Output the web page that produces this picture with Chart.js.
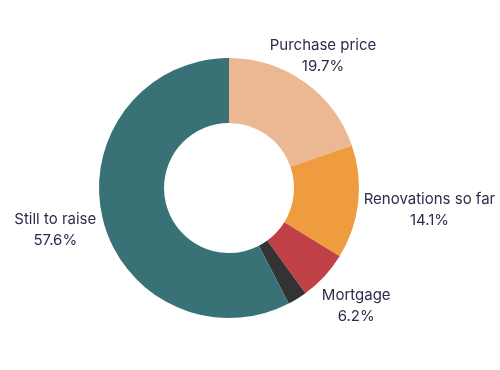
<!DOCTYPE html>
<html>
<head>
<meta charset="utf-8">
<script src="https://cdn.jsdelivr.net/npm/chart.js@4/dist/chart.umd.min.js"></script>
<style>
html,body{margin:0;padding:0;background:#fff;}
#wrap{position:relative;width:500px;height:370px;}
</style>
</head>
<body>
<div id="wrap"><canvas id="c"></canvas></div>
<script>
const categories = ["Purchase price", "Renovations so far", "Mortgage", "", "Still to raise"];
const shares = [19.7, 14.1, 6.2, 2.4, 57.6];
const sliceColors = ["#EBB893", "#EF9C41", "#BF4146", "#333333", "#387276"];

const labelPlugin = {
  id: 'outerLabels',
  afterDatasetsDraw(chart) {
    const ctx = chart.ctx;
    const meta = chart.getDatasetMeta(0);
    const data = chart.data.datasets[0].data;
    ctx.save();
    ctx.font = '15px Inter, "Noto Sans", sans-serif';
    ctx.fillStyle = '#2b2d4b';
    ctx.textAlign = 'center';
    ctx.textBaseline = 'middle';
    const lineH = 21;
    meta.data.forEach((arc, i) => {
      const name = chart.data.labels[i];
      if (!name) return;
      const p = arc.getProps(['x','y','startAngle','endAngle','outerRadius'], true);
      const mid = (p.startAngle + p.endAngle) / 2;
      const c = Math.cos(mid), s = Math.sin(mid);
      const lines = [name, data[i].toFixed(1) + '%'];
      const w = Math.max(...lines.map(l => ctx.measureText(l).width));
      const h = lineH * 2;
      const ext = Math.abs(c) * w / 2 + Math.abs(s) * h / 2;
      let d = p.outerRadius + 4 + ext;
      let cx = p.x + c * d, cy = p.y + s * d;
      const minTop = 35;
      if (cy - h / 2 < minTop && s < 0) {
        const back = (minTop - (cy - h / 2)) / Math.abs(s);
        d -= back;
        cx = p.x + c * d; cy = p.y + s * d;
      }
      ctx.fillText(lines[0], cx, cy - lineH / 2);
      ctx.fillText(lines[1], cx, cy + lineH / 2);
    });
    ctx.restore();
  }
};

new Chart(document.getElementById('c'), {
  type: 'doughnut',
  data: {
    labels: categories,
    datasets: [{
      data: shares,
      backgroundColor: sliceColors,
      borderWidth: 0
    }]
  },
  options: {
    responsive: true,
    maintainAspectRatio: false,
    animation: false,
    cutout: '50%',
    layout: { padding: { left: 99, right: 141, top: 58, bottom: 52 } },
    plugins: { legend: { display: false }, tooltip: { enabled: false } }
  },
  plugins: [labelPlugin]
});
</script>
</body>
</html>
